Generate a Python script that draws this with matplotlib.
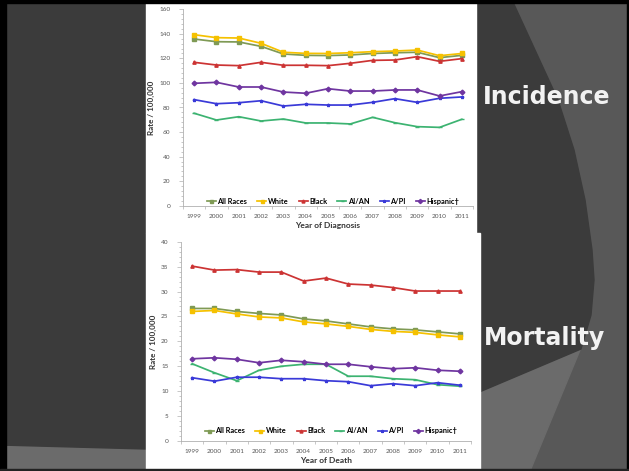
import matplotlib
matplotlib.use("Agg")
import matplotlib.pyplot as plt
from matplotlib.patches import Polygon, Rectangle
from matplotlib.ticker import MultipleLocator

years = [str(y) for y in range(1999, 2012)]
series = ["All Races", "White", "Black", "AI/AN", "A/PI", "Hispanic\u2020"]

# incidence, rate per 100,000
inc_all = [135.8, 133.6, 133.4, 129.8, 123.6, 122.5, 122.3, 122.8, 124.0, 124.6, 125.0, 120.6, 122.5]
inc_white = [139.3, 136.9, 136.6, 132.3, 125.0, 124.1, 124.0, 124.6, 125.5, 126.0, 126.8, 122.2, 124.0]
inc_black = [116.8, 114.6, 114.1, 116.8, 114.4, 114.4, 114.1, 116.0, 118.4, 118.7, 121.4, 117.6, 119.8]
inc_aian = [75.3, 69.8, 72.5, 69.0, 70.6, 67.4, 67.4, 66.6, 72.0, 67.6, 64.4, 63.8, 70.4]
inc_api = [86.4, 83.1, 83.9, 85.5, 81.2, 82.6, 82.0, 82.0, 84.2, 87.2, 84.2, 87.5, 88.6]
inc_hisp = [99.7, 100.5, 96.7, 96.7, 92.6, 91.6, 95.3, 93.4, 93.4, 94.3, 94.3, 89.4, 92.9]

# mortality, rate per 100,000
mor_all = [26.6, 26.6, 26.0, 25.6, 25.3, 24.5, 24.1, 23.5, 22.9, 22.5, 22.3, 21.9, 21.5]
mor_white = [26.0, 26.2, 25.5, 24.9, 24.7, 23.9, 23.5, 23.0, 22.4, 22.0, 21.8, 21.3, 20.9]
mor_black = [35.1, 34.3, 34.4, 33.9, 33.9, 32.1, 32.7, 31.5, 31.3, 30.8, 30.1, 30.1, 30.1]
mor_aian = [15.5, 13.7, 12.1, 14.2, 15.0, 15.4, 15.4, 13.0, 13.0, 12.5, 12.3, 11.3, 11.0]
mor_api = [12.7, 12.0, 12.8, 12.8, 12.5, 12.5, 12.1, 11.9, 11.1, 11.5, 11.1, 11.7, 11.2]
mor_hisp = [16.5, 16.7, 16.4, 15.7, 16.2, 15.9, 15.4, 15.4, 14.9, 14.5, 14.7, 14.2, 14.0]

colors = ["#7f9a55", "#f5c100", "#cc3333", "#3cb371", "#3a3ad8", "#6f35a0"]
markers = ["s", "s", "^", "_", "*", "D"]

W, H = 629, 471
fig = plt.figure(figsize=(W / 100, H / 100), dpi=100)

# slide background, drawn in pixel coordinates
bg = fig.add_axes([0, 0, 1, 1])
bg.set_xlim(0, W)
bg.set_ylim(H, 0)
bg.axis("off")
bg.add_patch(Rectangle((0, 0), W, H, color="#585858"))
bg.add_patch(Polygon([(580, 350), (530, 471), (0, 471), (0, 350)], color="#6b6b6b"))
dark = [(0, 0), (512, 0), (535, 50), (558, 100), (574, 150), (585, 200), (592, 250),
        (594, 280), (591, 315), (581, 349), (477, 393), (300, 440), (146, 449), (0, 445)]
bg.add_patch(Polygon(dark, color="#3b3b3b"))
bg.add_patch(Rectangle((146, 3), 330, 230, color="white"))
bg.add_patch(Rectangle((146, 233), 334, 238, color="white"))
# frame
bg.add_patch(Rectangle((0, 0), 6, H, color="black"))
bg.add_patch(Rectangle((0, 0), W, 3, color="black"))
bg.add_patch(Rectangle((W - 2, 0), 2, H, color="black"))
bg.add_patch(Rectangle((0, H - 2), W, 2, color="#222222"))

bg.text(483, 97, "Incidence", color="#f2f2f2", fontsize=17, fontweight="bold",
        family="DejaVu Sans", va="center", ha="left")
bg.text(484, 338, "Mortality", color="#f2f2f2", fontsize=17, fontweight="bold",
        family="DejaVu Sans", va="center", ha="left")

font = ["Lato", "DejaVu Sans"]


def draw(ax, data, ymax, ystep, yminor, xlabel, leg_y):
    x = list(range(len(years)))
    for vals, name, c, m in zip(data, series, colors, markers):
        ax.plot(x, vals, color=c, lw=1.25, marker=m, ms=2.4, mec=c, mfc=c, label=name)
    ax.set_xlim(-0.5, len(years) - 0.5)
    ax.set_ylim(0, ymax)
    ax.set_xticks(x)
    ax.set_xticklabels(years)
    ax.xaxis.set_minor_locator(MultipleLocator(1, offset=0.5))
    ax.yaxis.set_major_locator(MultipleLocator(ystep))
    ax.yaxis.set_minor_locator(MultipleLocator(yminor))
    ax.patch.set_alpha(0)
    for s in ["top", "right"]:
        ax.spines[s].set_visible(False)
    for s in ["left", "bottom"]:
        ax.spines[s].set_color("#b0b0b0")
        ax.spines[s].set_linewidth(0.6)
    ax.tick_params(axis="both", which="both", colors="#b0b0b0", width=0.5,
                   labelsize=4.6, labelcolor="#555555")
    ax.tick_params(axis="x", which="major", length=0, pad=6)
    ax.tick_params(axis="x", which="minor", length=2)
    ax.tick_params(axis="y", which="major", length=3, pad=6)
    ax.tick_params(axis="y", which="minor", length=1.5)
    for lab in ax.get_xticklabels() + ax.get_yticklabels():
        lab.set_family(font)
    ax.set_xlabel(xlabel, fontsize=6, fontweight="bold", color="#333333",
                  family=font, labelpad=2)
    ax.set_ylabel("Rate / 100,000", fontsize=5.8, fontweight="bold", color="#333333",
                  family=font, labelpad=3)
    ax.legend(loc="center", bbox_to_anchor=(0.517, leg_y), ncol=6, frameon=False,
              prop={"family": font, "size": 5.3, "weight": "bold"},
              handlelength=1.2, handletextpad=0.2, columnspacing=1.4, markerscale=0.9)


ax1 = fig.add_axes([183 / W, 1 - 205.7 / H, 290 / W, 196.4 / H])
draw(ax1, [inc_all, inc_white, inc_black, inc_aian, inc_api, inc_hisp],
     160, 20, 4, "Year of Diagnosis", 0.022)

ax2 = fig.add_axes([181 / W, 1 - 441 / H, 290 / W, 199.3 / H])
draw(ax2, [mor_all, mor_white, mor_black, mor_aian, mor_api, mor_hisp],
     40, 5, 1, "Year of Death", 0.052)

fig.savefig("out.png", dpi=100)
